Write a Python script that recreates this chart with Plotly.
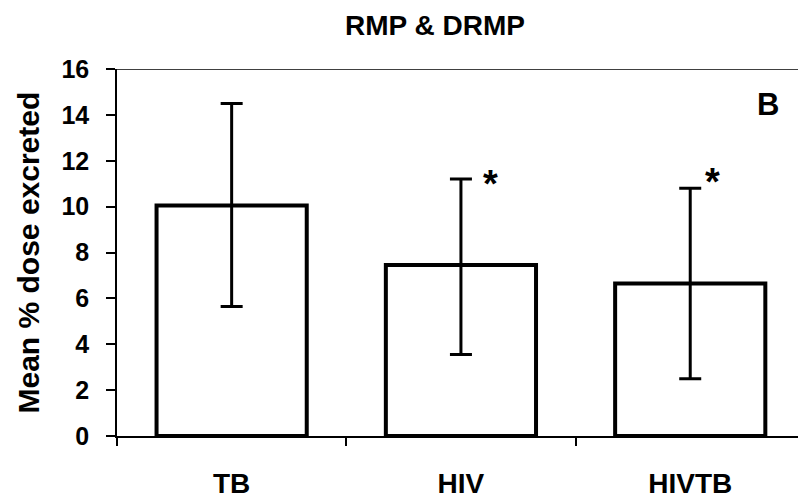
import plotly.graph_objects as go

categories = ["TB", "HIV", "HIVTB"]
means = [10.05, 7.45, 6.65]
upper = [14.5, 11.2, 10.8]
lower = [5.65, 3.55, 2.5]
star_flags = [False, True, True]
y_ticks = [0, 2, 4, 6, 8, 10, 12, 14, 16]

err_plus = [u - m for u, m in zip(upper, means)]
err_minus = [m - l for m, l in zip(means, lower)]

FONT = "Liberation Sans, Arial, sans-serif"

# pixel offsets of the significance stars relative to the top of each error bar
star_xshift = [0, 30, 22]
star_yshift = [0, -5, 6]

fig = go.Figure()
fig.add_trace(go.Bar(
    x=categories, y=means, width=0.655,
    marker=dict(color="white", line=dict(color="black", width=4)),
    error_y=dict(type="data", symmetric=False, array=err_plus, arrayminus=err_minus,
                 color="black", thickness=3, width=11),
    showlegend=False,
))

annotations = []
for i, (c, u, s) in enumerate(zip(categories, upper, star_flags)):
    if s:
        annotations.append(dict(x=c, y=u, xref="x", yref="y", text="*", showarrow=False,
                                font=dict(family=FONT, size=38, color="black", weight="bold"),
                                xanchor="center", yanchor="middle",
                                xshift=star_xshift[i], yshift=star_yshift[i]))

annotations.append(dict(x=(28 - 117) / 681, y=0.5, xref="paper", yref="paper",
                        text="Mean % dose excreted",
                        showarrow=False, textangle=-90, xanchor="center", yanchor="middle",
                        font=dict(family=FONT, size=30, color="black", weight="bold")))
annotations.append(dict(x=(768 - 117) / 681, y=(439 - 105) / 370, xref="paper", yref="paper", text="B",
                        showarrow=False, xanchor="center", yanchor="middle",
                        font=dict(family=FONT, size=31, color="black", weight="bold")))

fig.update_layout(
    width=798, height=499,
    margin=dict(l=117, r=0, t=69, b=60),
    paper_bgcolor="white", plot_bgcolor="white",
    title=dict(text="RMP & DRMP", x=435 / 798, xref="container", xanchor="center",
               y=1 - 25 / 499, yref="container", yanchor="middle",
               font=dict(family=FONT, size=28, color="black", weight="bold")),
    annotations=annotations,
    shapes=[dict(type="line", xref="paper", yref="y", x0=0, x1=1, y0=16, y1=16,
                 line=dict(color="black", width=1.5))],
    xaxis=dict(range=[-0.5, 2.47], tickson="boundaries", ticks="outside", ticklen=8,
               tickcolor="black", tickwidth=1.5, showline=True, linecolor="black", linewidth=1.5,
               showgrid=False, zeroline=False, ticklabelstandoff=22,
               tickfont=dict(family=FONT, size=28, color="black", weight="bold")),
    yaxis=dict(range=[0, 16], tickvals=y_ticks, ticks="outside", ticklen=9,
               tickcolor="black", tickwidth=1.5, showline=True, linecolor="black", linewidth=1.5,
               showgrid=False, zeroline=False, ticklabelstandoff=12,
               tickfont=dict(family=FONT, size=25, color="black", weight="bold")),
)

fig.write_html("out.html")
